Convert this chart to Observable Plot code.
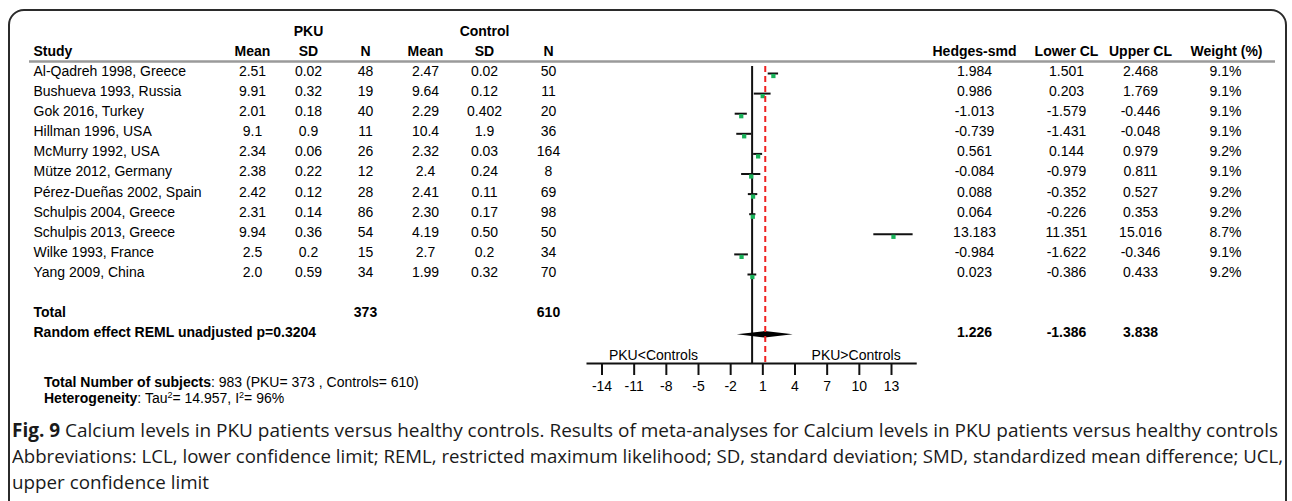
<!DOCTYPE html>
<html><head><meta charset="utf-8">
<script src="https://cdn.jsdelivr.net/npm/d3@7"></script>
<script src="https://cdn.jsdelivr.net/npm/@observablehq/plot@0.6"></script>
<style>
body{margin:0;background:#fff;width:1292px;height:501px;overflow:hidden;position:relative;font-family:"Liberation Sans",Arial,sans-serif;color:#000;}
#frame{position:absolute;left:8px;top:9px;width:1279px;height:600px;border:2px solid #2b2b2b;border-radius:16px;box-sizing:border-box;}
#chart{position:absolute;left:0;top:0;}
#notes{position:absolute;left:44px;top:374px;font-size:14px;line-height:16px;white-space:nowrap;}
#notes sup{font-size:9px;vertical-align:5px;line-height:0;}
#caption{position:absolute;left:12px;top:417px;font-family:"Open Sans",sans-serif;font-size:19px;line-height:26px;white-space:nowrap;color:#1a1a1a;}
#caption div{display:block;width:max-content;transform-origin:0 50%;}
</style></head><body>
<div id="frame"></div><div id="chart"></div><div id="notes"></div><div id="caption"></div>
<script>
const studies = ["Al-Qadreh 1998, Greece","Bushueva 1993, Russia","Gok 2016, Turkey","Hillman 1996, USA","McMurry 1992, USA","Mütze 2012, Germany","Pérez-Dueñas 2002, Spain","Schulpis 2004, Greece","Schulpis 2013, Greece","Wilke 1993, France","Yang 2009, China"];
const pkuMean = ["2.51","9.91","2.01","9.1","2.34","2.38","2.42","2.31","9.94","2.5","2.0"];
const pkuSD = ["0.02","0.32","0.18","0.9","0.06","0.22","0.12","0.14","0.36","0.2","0.59"];
const pkuN = [48,19,40,11,26,12,28,86,54,15,34];
const ctlMean = ["2.47","9.64","2.29","10.4","2.32","2.4","2.41","2.30","4.19","2.7","1.99"];
const ctlSD = ["0.02","0.12","0.402","1.9","0.03","0.24","0.11","0.17","0.50","0.2","0.32"];
const ctlN = [50,11,20,36,164,8,69,98,50,34,70];
const smd = [1.984,0.986,-1.013,-0.739,0.561,-0.084,0.088,0.064,13.183,-0.984,0.023];
const lcl = [1.501,0.203,-1.579,-1.431,0.144,-0.979,-0.352,-0.226,11.351,-1.622,-0.386];
const ucl = [2.468,1.769,-0.446,-0.048,0.979,0.811,0.527,0.353,15.016,-0.346,0.433];
const weight = [9.1,9.1,9.1,9.1,9.2,9.1,9.2,9.2,8.7,9.1,9.2];
const totalPKU = 373, totalCtl = 610, totalSubjects = 983;
const pooledSmd = 1.226, pooledLcl = -1.386, pooledUcl = 3.838;
const pValue = "0.3204";
const tau2 = "14.957", i2 = "96%";
const xTicks = [-14,-11,-8,-5,-2,1,4,7,10,13];

// layout constants (pixels)
const W = 1292, H = 410, ML = 29, MR = 17, MT = 66, MB = 47;
const COL = {study:33, pkuMean:252, pkuSD:308, pkuN:365, ctlMean:425, ctlSD:484, ctlN:548, smd:974, lcl:1066, ucl:1140, weight:1225};
const ROW0 = 71, STEP = 20.1;
const axisRow = (H - MB - ROW0) / STEP;

const rows = studies.map((s, i) => ({i, study: s, pkuMean: pkuMean[i], pkuSD: pkuSD[i], pkuN: pkuN[i],
  ctlMean: ctlMean[i], ctlSD: ctlSD[i], ctlN: ctlN[i], smd: smd[i], lcl: lcl[i], ucl: ucl[i], weight: weight[i]}));
const totalRow = 12, pooledRow = 13;
const diamond = [
  {x: pooledLcl, h: 0},
  {x: pooledSmd, h: 0.16},
  {x: pooledUcl, h: 0}
];

const FS = 14;
const T = (data, text, cx, y, o = {}) => Plot.text(data, {text, y, frameAnchor: "left", dx: cx - ML, textAnchor: "middle", fontSize: FS, fill: "#000", ...o});
const one = [0];
const c = v => () => v;
const B = {fontWeight: "bold"};

const plot = Plot.plot({
  width: W, height: H,
  marginLeft: ML, marginRight: MR, marginTop: MT, marginBottom: MB,
  style: {fontFamily: "'Liberation Sans', Arial, sans-serif", background: "transparent", overflow: "visible"},
  x: {domain: [-14, 13], range: [601.5, 891]},
  y: {domain: [0, 13], range: [ROW0, ROW0 + 13 * STEP], axis: null},
  marks: [
    // headers
    T(one, c("PKU"), COL.pkuSD, c(-2), B),
    T(one, c("Control"), COL.ctlSD, c(-2), B),
    T(one, c("Study"), COL.study, c(-1), {...B, textAnchor: "start"}),
    T(one, c("Mean"), COL.pkuMean, c(-1), B),
    T(one, c("SD"), COL.pkuSD, c(-1), B),
    T(one, c("N"), COL.pkuN, c(-1), B),
    T(one, c("Mean"), COL.ctlMean, c(-1), B),
    T(one, c("SD"), COL.ctlSD, c(-1), B),
    T(one, c("N"), COL.ctlN, c(-1), B),
    T(one, c("Hedges-smd"), COL.smd, c(-1), B),
    T(one, c("Lower CL"), COL.lcl, c(-1), B),
    T(one, c("Upper CL"), COL.ucl, c(-1), B),
    T(one, c("Weight (%)"), 1226, c(-1), B),
    Plot.ruleY([-0.5], {stroke: "#9a9a9a", strokeWidth: 2.5}),
    // study rows
    T(rows, "study", COL.study, "i", {textAnchor: "start"}),
    T(rows, "pkuMean", COL.pkuMean, "i"),
    T(rows, "pkuSD", COL.pkuSD, "i"),
    T(rows, "pkuN", COL.pkuN, "i"),
    T(rows, "ctlMean", COL.ctlMean, "i"),
    T(rows, "ctlSD", COL.ctlSD, "i"),
    T(rows, "ctlN", COL.ctlN, "i"),
    T(rows, d => d.smd.toFixed(3), COL.smd, "i"),
    T(rows, d => d.lcl.toFixed(3), COL.lcl, "i"),
    T(rows, d => d.ucl.toFixed(3), COL.ucl, "i"),
    T(rows, d => d.weight.toFixed(1) + "%", COL.weight, "i"),
    // totals
    T(one, c("Total"), COL.study, c(totalRow), {...B, textAnchor: "start"}),
    T(one, c(String(totalPKU)), COL.pkuN, c(totalRow), B),
    T(one, c(String(totalCtl)), COL.ctlN, c(totalRow), B),
    T(one, c("Random effect REML unadjusted p=" + pValue), COL.study, c(pooledRow), {...B, textAnchor: "start"}),
    T(one, c(pooledSmd.toFixed(3)), COL.smd, c(pooledRow), B),
    T(one, c(pooledLcl.toFixed(3)), COL.lcl, c(pooledRow), B),
    T(one, c(pooledUcl.toFixed(3)), COL.ucl, c(pooledRow), B),
    // forest
    Plot.ruleX([0], {stroke: "#111", strokeWidth: 2}),
    Plot.ruleY(rows, {y: "i", x1: "lcl", x2: "ucl", dy: 2, stroke: "#111", strokeWidth: 2}),
    Plot.dot(rows, {x: "smd", y: "i", dy: 4.5, symbol: "square", r: 2.4, fill: "#19b35a", stroke: "none"}),
    Plot.areaY(diamond, {x: "x", y1: d => pooledRow - d.h, y2: d => pooledRow + d.h, dy: 2, fill: "#000", curve: "linear"}),
    Plot.ruleX([pooledSmd], {stroke: "#ee2222", strokeWidth: 2, strokeDasharray: "6,4"}),
    // axis
    Plot.ruleY([axisRow], {x1: c(-15.4), x2: c(15.4), stroke: "#111", strokeWidth: 2}),
    Plot.axisX({ticks: xTicks, tickSize: 12, tickPadding: 6, tickFormat: d => String(d), fontSize: 14, label: null, strokeWidth: 2, stroke: "#111", fill: "#000"}),
    Plot.text(["PKU<Controls"], {x: c(-9.2), y: c(axisRow - 0.42), fontSize: 14, fill: "#000"}),
    Plot.text(["PKU>Controls"], {x: c(9.7), y: c(axisRow - 0.42), fontSize: 14, fill: "#000"})
  ]
});
document.getElementById("chart").appendChild(plot);

document.getElementById("notes").innerHTML =
  `<div><b>Total Number of subjects</b>: ${totalSubjects} (PKU= ${totalPKU} , Controls= ${totalCtl})</div>` +
  `<div><b>Heterogeneity</b>: Tau<sup>2</sup>= ${tau2}, I<sup>2</sup>= ${i2}</div>`;

const captionLines = [
  "<b>Fig. 9</b> Calcium levels in PKU patients versus healthy controls. Results of meta-analyses for Calcium levels in PKU patients versus healthy controls",
  "Abbreviations: LCL, lower confidence limit; REML, restricted maximum likelihood; SD, standard deviation; SMD, standardized mean difference; UCL,",
  "upper confidence limit"
];
const cap = document.getElementById("caption");
cap.innerHTML = captionLines.map(l => `<div>${l}</div>`).join("");
// fit the wrapped caption lines to the figure's text width
const lineDivs = [...cap.children];
const targets = [1266, 1271];
const scales = targets.map((t, k) => t / lineDivs[k].getBoundingClientRect().width);
const s3 = (scales[0] + scales[1]) / 2;
[scales[0], scales[1], s3].forEach((s, k) => { lineDivs[k].style.transform = `scaleX(${s})`; });
</script>
</body></html>
